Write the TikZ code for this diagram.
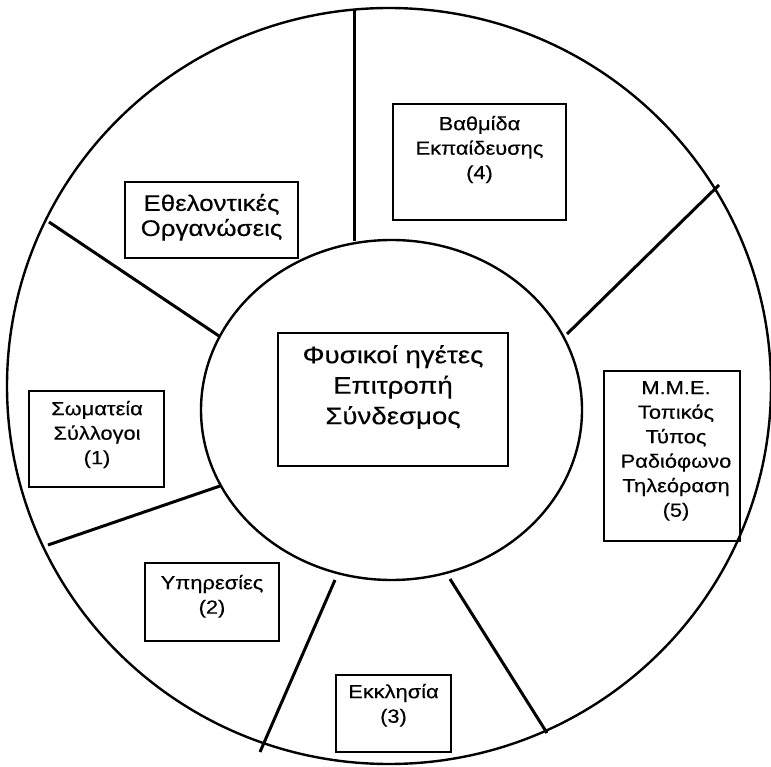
\documentclass[tikz,border=0pt]{standalone}
\usepackage{fontspec}
\setmainfont{Liberation Sans}[FakeStretch=1.15, FakeBold=0.3]
\usetikzlibrary{shapes.geometric}
% zero-width strut that fixes the height of the first text line to 1em
\newcommand{\hgt}{\rule{0pt}{1em}}
\tikzset{
  ring/.style={draw, ellipse, line width=2.4pt, inner sep=0pt, outer sep=0pt},
  spoke/.style={line width=3pt},
  box/.style={draw, rectangle, line width=1.8pt, inner sep=0pt, outer sep=0pt},
  lbl/.style={inner sep=0pt, align=center, anchor=north},
  small/.style={lbl, font=\fontsize{19}{24.5}\selectfont},
  mid/.style={lbl, font=\fontsize{22.5}{25}\selectfont},
  big/.style={lbl, font=\fontsize{24}{30.5}\selectfont},
}
\begin{document}
\begin{tikzpicture}[x=1pt, y=-1pt]
\useasboundingbox (0,0) rectangle (771,767);
\fill[white] (0,0) rectangle (771,767);

% outer and inner rings
\node[ring, minimum width=764pt, minimum height=756pt] (outer) at (389,386) {};
\node[ring, minimum width=381pt, minimum height=340pt] (inner) at (391.5,410) {};

% spoke end points
\coordinate (s1o) at (354,10);   \coordinate (s1i) at (354,241);
\coordinate (s2o) at (719,185);  \coordinate (s2i) at (567,334);
\coordinate (s3o) at (49,222);   \coordinate (s3i) at (219,336);
\coordinate (s4o) at (48,545);   \coordinate (s4i) at (220,486);
\coordinate (s5i) at (335,580);  \coordinate (s5o) at (260,752);
\coordinate (s6i) at (450,579);  \coordinate (s6o) at (547,733);

\draw[spoke] (s1o) -- (s1i);
\draw[spoke] (s2o) -- (s2i);
\draw[spoke] (s3o) -- (s3i);
\draw[spoke] (s4o) -- (s4i);
\draw[spoke] (s5i) -- (s5o);
\draw[spoke] (s6i) -- (s6o);

% frames
\node[box, minimum width=230pt, minimum height=133pt] (core) at (393,399.5) {};
\node[box, minimum width=173pt, minimum height=76pt]  (vol)  at (211.5,220) {};
\node[box, minimum width=173pt, minimum height=116pt] (edu)  at (479.5,162) {};
\node[box, minimum width=135pt, minimum height=96pt]  (club) at (96.5,439) {};
\node[box, minimum width=136pt, minimum height=170pt] (media) at (672,456) {};
\node[box, minimum width=134pt, minimum height=78pt]  (serv) at (212,602) {};
\node[box, minimum width=115pt, minimum height=77pt]  (church) at (393.5,713.5) {};

% labels
\node[big]   (coret)   at (393,339)     {\hgt Φυσικοί ηγέτες\\Επιτροπή\\Σύνδεσμος};
\node[mid]   (volt)    at (211.5,188.2) {\hgt Εθελοντικές\\Οργανώσεις};
\node[small] (edut)    at (479.5,111)   {\hgt Βαθμίδα\\Εκπαίδευσης\\(4)};
\node[small] (clubt)   at (97,396)      {\hgt Σωματεία\\Σύλλογοι\\(1)};
\node[small] (mediat)  at (676,375)     {\hgt Μ.Μ.Ε.\\Τοπικός\\Τύπος\\Ραδιόφωνο\\Τηλεόραση\\(5)};
\node[small] (servt)   at (212,570)     {\hgt Υπηρεσίες\\(2)};
\node[small] (churcht) at (393.5,679)   {\hgt Εκκλησία\\(3)};
\end{tikzpicture}
\end{document}
